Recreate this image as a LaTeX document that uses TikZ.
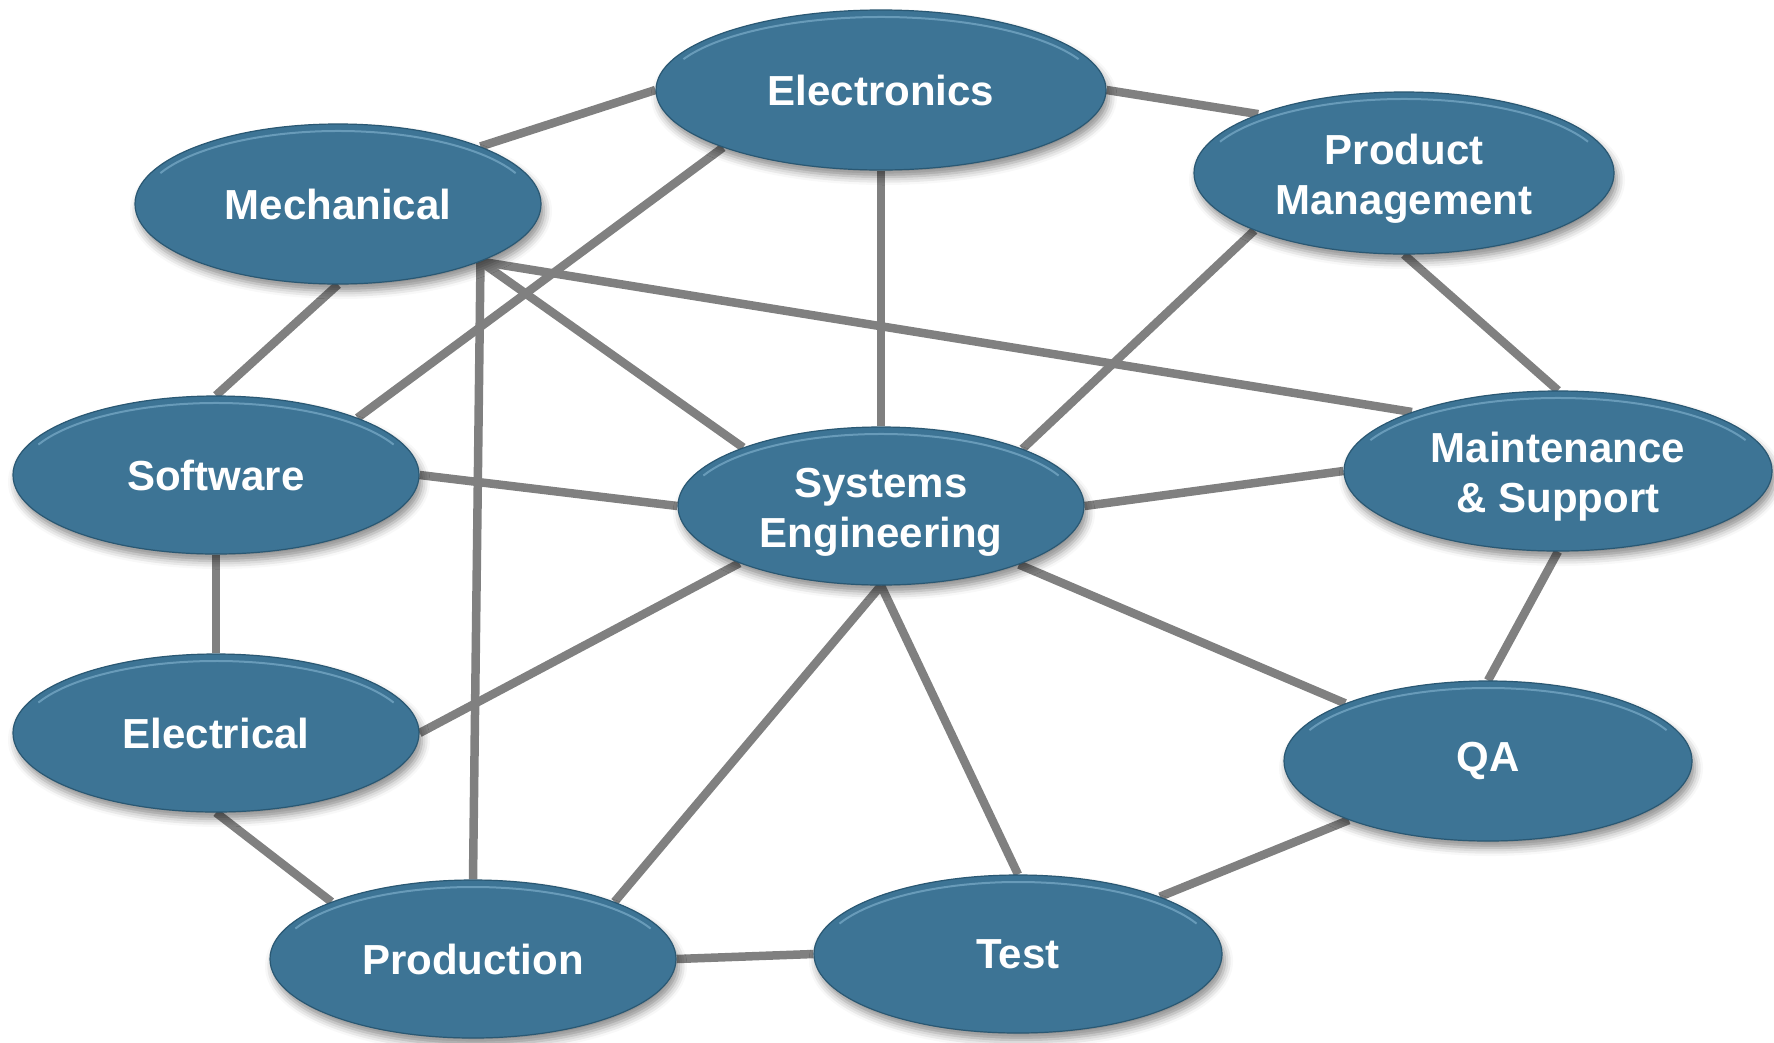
\documentclass[tikz,border=0pt]{standalone}
\usepackage{fontspec}
\setmainfont{Liberation Sans}
\usetikzlibrary{shapes.geometric,shadows.blur,calc}
\pgfdeclarelayer{background}
\pgfsetlayers{background,main}

\definecolor{bubblefill}{HTML}{3D7495}
\definecolor{bubbleedge}{HTML}{2A5873}
\definecolor{bubblehi}{HTML}{86B6D2}
\definecolor{linkgray}{HTML}{808080}

% strut that lowers two-line labels a little inside their ellipse
\newcommand{\toplift}{\rule{0pt}{42pt}}

\tikzset{
  bubble/.style={
    ellipse, fill=bubblefill, draw=bubbleedge, line width=1.2pt,
    inner sep=0pt, minimum width=406pt, minimum height=158pt,
    text=white, font=\fontsize{42}{50}\selectfont\bfseries, align=center,
    blur shadow={shadow xshift=3pt, shadow yshift=-7pt,
                 shadow blur radius=8pt, shadow opacity=45},
    path picture={
      \path let \p1=($(path picture bounding box.north east)-(path picture bounding box.center)$) in
        [draw=bubblehi, line width=2pt, opacity=0.6]
        ($(path picture bounding box.center)+(155:{\x1-7pt} and {\y1-7pt})$)
        arc[start angle=155, end angle=25, x radius=\x1-7pt, y radius=\y1-7pt];
    }
  },
  link/.style={draw=linkgray, line width=8.5pt}
}

\begin{document}
\begin{tikzpicture}[x=1pt,y=-1pt]
\useasboundingbox (0,0) rectangle (1774,1042);

% departments
\node[bubble, minimum width=450pt, minimum height=160pt] (elx) at (881,90) {Electronics};
\node[bubble, minimum height=160pt] (mech) at (338,204) {Mechanical};
\node[bubble, minimum width=420pt, minimum height=162pt] (pm) at (1404,173) {\toplift Product\\Management};
\node[bubble] (sw) at (216,475) {Software};
\node[bubble] (se) at (881,506) {\toplift Systems\\Engineering};
\node[bubble, minimum width=428pt, minimum height=160pt] (ms) at (1558,471) {\toplift Maintenance\\\& Support};
\node[bubble] (ee) at (216,733) {Electrical};
\node[bubble, minimum width=408pt, minimum height=160pt] (qa) at (1488,761) {QA};
\node[bubble] (prod) at (473,959) {Production};
\node[bubble, minimum width=408pt] (test) at (1018,954) {Test};

% connections, behind the bubbles
\begin{pgfonlayer}{background}
\draw[link] (mech.22) -- (elx.180);
\draw[link] (elx.0) -- (pm.158);
\draw[link] (elx.200) -- (sw.22);
\draw[link] (elx.270) -- (se.90);
\draw[link] (mech.270) -- (sw.90);
\draw[link] (mech.-22) -- (se.157);
\draw[link] (mech.-22) -- (ms.158);
\draw[link] (mech.-22) -- (prod.90);
\draw[link] (pm.201) -- (se.22);
\draw[link] (pm.270) -- (ms.90);
\draw[link] (sw.0) -- (se.180);
\draw[link] (se.0) -- (ms.180);
\draw[link] (sw.270) -- (ee.90);
\draw[link] (se.202) -- (ee.0);
\draw[link] (se.270) -- (prod.22);
\draw[link] (se.270) -- (test.90);
\draw[link] (se.-23) -- (qa.158);
\draw[link] (ms.270) -- (qa.90);
\draw[link] (ee.270) -- (prod.158);
\draw[link] (prod.0) -- (test.180);
\draw[link] (test.22) -- (qa.203);
\end{pgfonlayer}
\end{tikzpicture}
\end{document}
